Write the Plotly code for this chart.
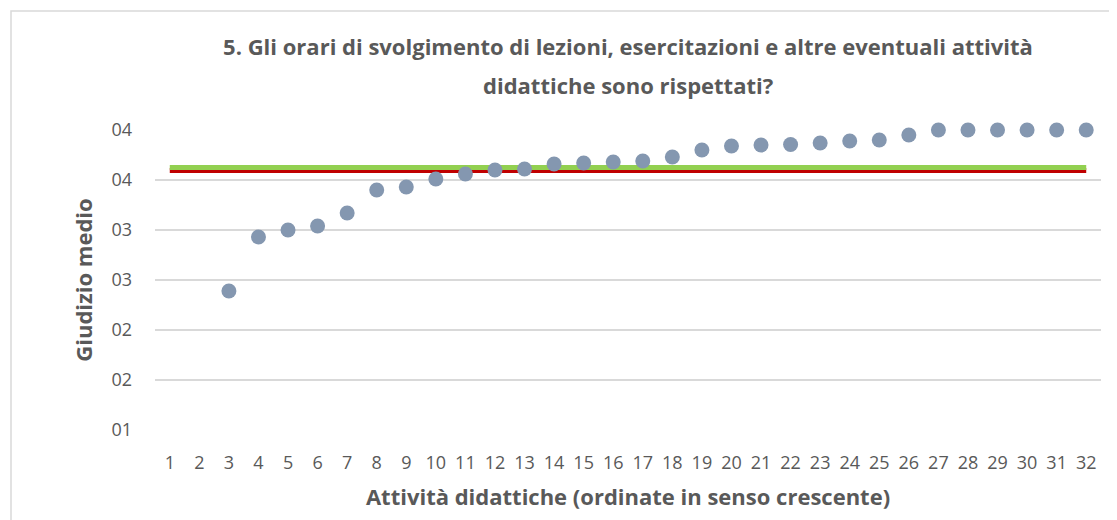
import plotly.graph_objects as go

categories = list(range(1, 33))
giudizio = [None, None, 2.39, 2.93, 3.00, 3.04, 3.17, 3.40, 3.43, 3.51, 3.56, 3.60, 3.61,
            3.66, 3.67, 3.68, 3.69, 3.73, 3.80, 3.84, 3.85, 3.855, 3.87, 3.89, 3.90, 3.95,
            4.00, 4.00, 4.00, 4.00, 4.00, 4.00]
media_green = 3.625
media_red = 3.595
y_tickvals = [1.0, 1.5, 2.0, 2.5, 3.0, 3.5, 4.0]
y_ticktext = ["01", "02", "02", "03", "03", "04", "04"]
title_lines = ["5. Gli orari di svolgimento di lezioni, esercitazioni e altre eventuali attività",
               "didattiche sono rispettati?"]

FONT = "Open Sans"
GRAY = "#595959"

fig = go.Figure()
fig.add_trace(go.Scatter(x=categories, y=[media_red] * len(categories), mode="lines",
                         line=dict(color="#C00000", width=5), hoverinfo="skip", showlegend=False))
fig.add_trace(go.Scatter(x=categories, y=[media_green] * len(categories), mode="lines",
                         line=dict(color="#92D050", width=5), hoverinfo="skip", showlegend=False))
fig.add_trace(go.Scatter(x=categories, y=giudizio, mode="markers",
                         marker=dict(color="#8497B0", size=15), cliponaxis=False, showlegend=False))

# page body has an 8px margin; figure is sized/placed to compensate
OFF = 8
W, H = 1117 - OFF, 520 - OFF
ml, mt = 155 - OFF, 130 - OFF
mr, mb = 16, 90
pw = W - ml - mr
ph = H - mt - mb

fig.update_layout(
    width=W, height=H,
    margin=dict(l=ml, r=mr, t=mt, b=mb, autoexpand=False),
    paper_bgcolor="white", plot_bgcolor="white",
    font=dict(family=FONT, color=GRAY),
    title=dict(text="<b>" + title_lines[0] + "</b>",
               x=(ml + pw / 2) / W, xanchor="center", y=1 - (47 - OFF) / H, yanchor="middle",
               font=dict(family=FONT, size=22, color=GRAY)),
    xaxis=dict(range=[0.5, 32.5], tickvals=categories, ticktext=[str(c) for c in categories],
               showgrid=False, zeroline=False, showline=False, ticks="",
               tickfont=dict(size=18, color=GRAY), ticklabelstandoff=20,
               title=dict(text="<b>Attività didattiche (ordinate in senso crescente)</b>",
                          font=dict(size=22, color=GRAY), standoff=16)),
    yaxis=dict(range=[1, 4], tickvals=y_tickvals, ticktext=y_ticktext,
               showgrid=True, gridcolor="#D9D9D9", gridwidth=1.5, zeroline=False,
               showline=False, ticks="", tickfont=dict(size=18, color=GRAY), ticklabelstandoff=22,
               title=dict(text="<b>Giudizio medio</b>", font=dict(size=22, color=GRAY), standoff=12)),
)

fig.add_annotation(text="<b>" + title_lines[1] + "</b>", xref="paper", yref="paper",
                   x=0.5, xanchor="center", y=1 + (mt - (85 - OFF)) / ph, yanchor="middle",
                   showarrow=False, font=dict(family=FONT, size=22, color=GRAY))

# chart border (outer frame)
fig.add_shape(type="rect", xref="paper", yref="paper",
              x0=(11 - OFF - ml) / pw, x1=(W + 20 - ml) / pw,
              y0=-(H + 20 - mt - ph) / ph, y1=1 + (mt - (11 - OFF)) / ph,
              line=dict(color="#D9D9D9", width=1.5), fillcolor="rgba(0,0,0,0)", layer="below")

fig.write_html("out.html")
